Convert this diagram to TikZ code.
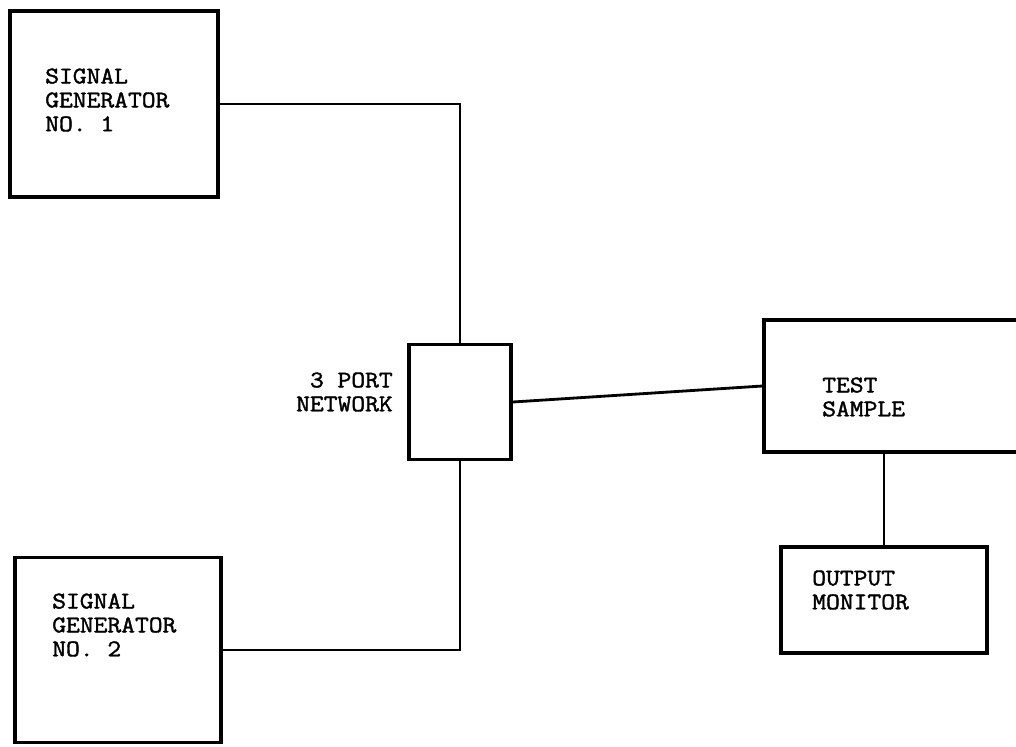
\documentclass[tikz,border=0pt]{standalone}
\usepackage{fontspec}
\setmonofont[FakeBold=1.6, FakeStretch=1.12]{Latin Modern Mono}
\usepackage{tikz}
\usetikzlibrary{positioning, calc}
\tikzset{
  unit/.style={rectangle, draw=black, line width=2.4pt, inner sep=0pt},
  tag/.style={font=\ttfamily\fontsize{17}{17}\selectfont, inner sep=0pt},
  wire/.style={line width=2pt},
}

\begin{document}
\begin{tikzpicture}[x=0.025cm, y=-0.025cm]

\useasboundingbox (0,0) rectangle (1016,746);
\clip (0,0) rectangle (1016,746);

% Boxes
\node[unit, minimum width=5.2cm, minimum height=4.65cm] (sg1) at (114,104) {};
\node[unit, minimum width=5.15cm, minimum height=4.625cm] (sg2) at (118,650) {};
\node[unit, minimum width=2.55cm, minimum height=2.875cm] (net) at (460,402) {};
\node[unit, minimum width=6.9cm, minimum height=3.3cm] (test) at (902,386) {};
\node[unit, minimum width=5.15cm, minimum height=2.65cm] (mon) at (884,600) {};

% Labels
\node[tag, anchor=west, align=left] (sg1txt) at (45,100) {SIGNAL\\GENERATOR\\NO. 1};
\node[tag, anchor=west, align=left] (sg2txt) at (52,625) {SIGNAL\\GENERATOR\\NO. 2};
\node[tag, anchor=east, align=right] (nettxt) at (393,392) {3 PORT\\NETWORK};
\node[tag, anchor=west, align=left] (testtxt) at (822,397) {TEST\\SAMPLE};
\node[tag, anchor=west, align=left] (montxt) at (812,590) {OUTPUT\\MONITOR};

% Wires
\draw[wire] (sg1.east) -| (net.north);
\draw[wire] (sg2.east) -| (net.south);
\draw[wire] (net.east) -- (test.west);
\draw[wire] (mon.north) -- (mon.north |- test.south);

\end{tikzpicture}
\end{document}
